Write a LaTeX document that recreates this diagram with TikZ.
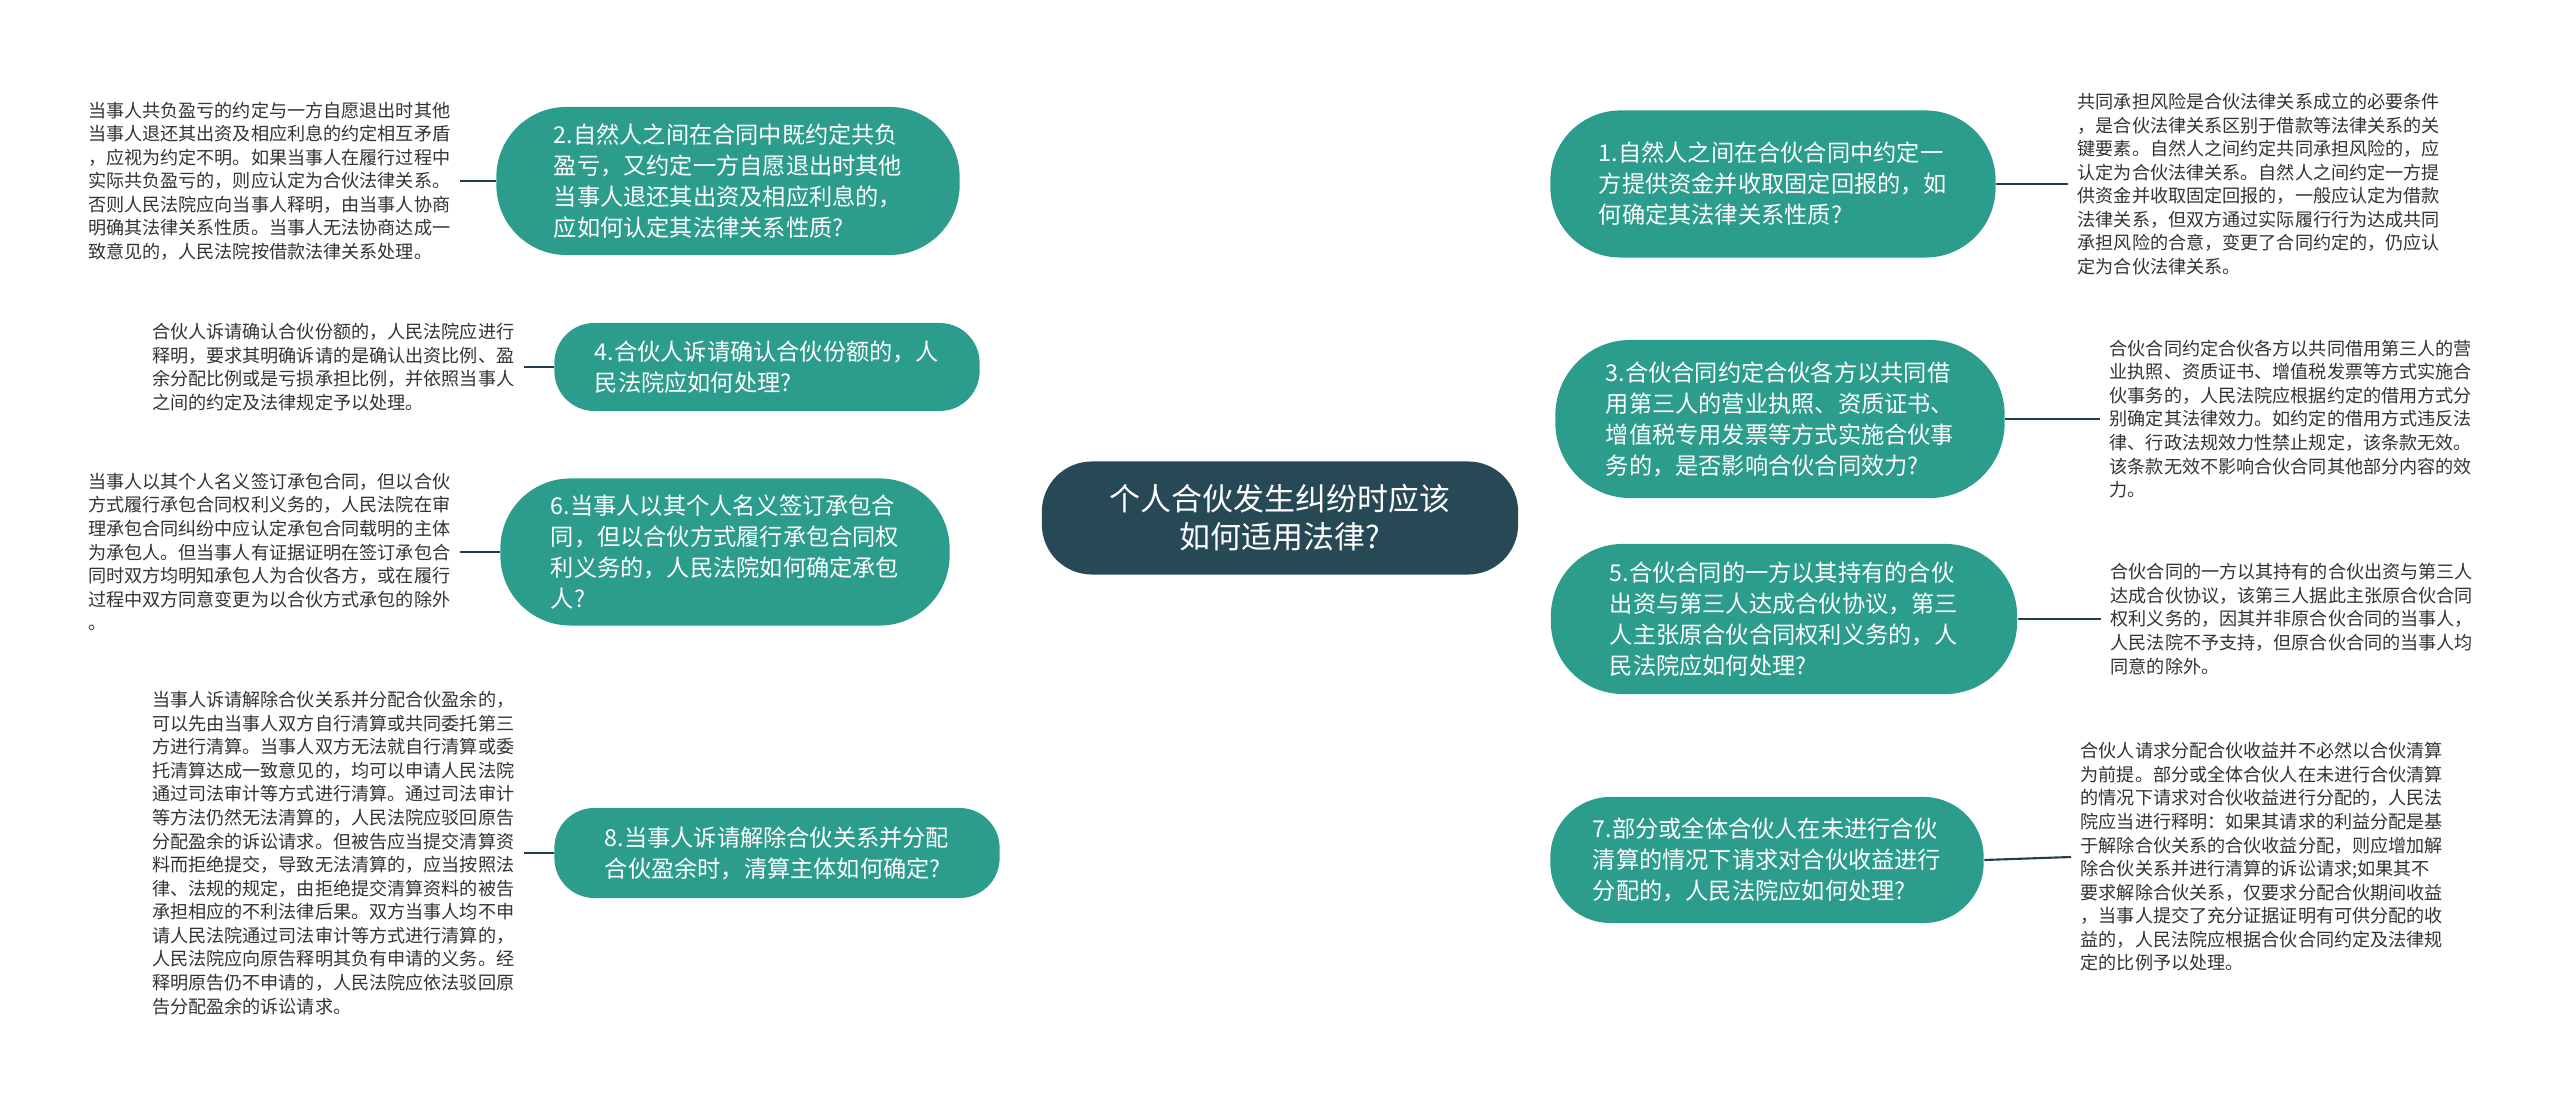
\documentclass[tikz,border=0pt]{standalone}
\usepackage{fontspec}
\setmainfont{Noto Sans CJK SC}
\usetikzlibrary{calc,backgrounds}
\definecolor{branchfill}{RGB}{44,157,140}
\definecolor{rootfill}{RGB}{39,73,86}
\definecolor{linec}{RGB}{35,62,74}
\definecolor{leaftext}{RGB}{51,51,51}
\begin{document}
\begin{tikzpicture}[x=0.01cm,y=-0.01cm,
  rootbox/.style={fill=rootfill, text=white, align=center, rounded corners=0.5cm,
    minimum width=4.76cm, minimum height=1.13cm, inner sep=0pt,
    font=\fontsize{8.8}{10.8}\selectfont},
  branch/.style={fill=branchfill, text=white, align=left, inner sep=0pt,
    font=\fontsize{6.6}{8.8}\selectfont},
  leaf/.style={text=leaftext, align=left, inner xsep=0.09cm, inner ysep=0pt,
    font=\fontsize{5.15}{6.7}\selectfont},
  link/.style={draw=linec, line width=0.6pt},
]
\useasboundingbox (0,0) rectangle (2560,1107);
\fill[white] (0,0) rectangle (2560,1107);

\node[rootbox] (c) at (1280,518) {个人合伙发生纠纷时应该\\如何适用法律?};

% right branches
\node[branch, minimum width=4.45cm, minimum height=1.47cm, rounded corners=0.7cm] (n1) at (1773,184)
  {1.自然人之间在合伙合同中约定一\\方提供资金并收取固定回报的，如\\何确定其法律关系性质?};
\node[branch, minimum width=4.49cm, minimum height=1.58cm, rounded corners=0.75cm] (n3) at (1780,419)
  {3.合伙合同约定合伙各方以共同借\\用第三人的营业执照、资质证书、\\增值税专用发票等方式实施合伙事\\务的，是否影响合伙合同效力?};
\node[branch, minimum width=4.66cm, minimum height=1.50cm, rounded corners=0.72cm] (n5) at (1784,619)
  {5.合伙合同的一方以其持有的合伙\\出资与第三人达成合伙协议，第三\\人主张原合伙合同权利义务的，人\\民法院应如何处理?};
\node[branch, minimum width=4.33cm, minimum height=1.26cm, rounded corners=0.6cm] (n7) at (1767,860)
  {7.部分或全体合伙人在未进行合伙\\清算的情况下请求对合伙收益进行\\分配的，人民法院应如何处理?};

% left branches
\node[branch, minimum width=4.63cm, minimum height=1.48cm, rounded corners=0.7cm] (n2) at (728,181)
  {2.自然人之间在合同中既约定共负\\盈亏，又约定一方自愿退出时其他\\当事人退还其出资及相应利息的，\\应如何认定其法律关系性质?};
\node[branch, minimum width=4.25cm, minimum height=0.88cm, rounded corners=0.4cm] (n4) at (767,367)
  {4.合伙人诉请确认合伙份额的，人\\民法院应如何处理?};
\node[branch, minimum width=4.49cm, minimum height=1.47cm, rounded corners=0.7cm] (n6) at (725,552)
  {6.当事人以其个人名义签订承包合\\同，但以合伙方式履行承包合同权\\利义务的，人民法院如何确定承包\\人?};
\node[branch, minimum width=4.45cm, minimum height=0.90cm, rounded corners=0.4cm] (n8) at (777,853)
  {8.当事人诉请解除合伙关系并分配\\合伙盈余时，清算主体如何确定?};

% leaves right
\node[leaf, anchor=west] (r1) at (2068,184)
  {共同承担风险是合伙法律关系成立的必要条件\\，是合伙法律关系区别于借款等法律关系的关\\键要素。自然人之间约定共同承担风险的，应\\认定为合伙法律关系。自然人之间约定一方提\\供资金并收取固定回报的，一般应认定为借款\\法律关系，但双方通过实际履行行为达成共同\\承担风险的合意，变更了合同约定的，仍应认\\定为合伙法律关系。};
\node[leaf, anchor=west] (r3) at (2100,419)
  {合伙合同约定合伙各方以共同借用第三人的营\\业执照、资质证书、增值税发票等方式实施合\\伙事务的，人民法院应根据约定的借用方式分\\别确定其法律效力。如约定的借用方式违反法\\律、行政法规效力性禁止规定，该条款无效。\\该条款无效不影响合伙合同其他部分内容的效\\力。};
\node[leaf, anchor=west] (r5) at (2101,619)
  {合伙合同的一方以其持有的合伙出资与第三人\\达成合伙协议，该第三人据此主张原合伙合同\\权利义务的，因其并非原合伙合同的当事人，\\人民法院不予支持，但原合伙合同的当事人均\\同意的除外。};
\node[leaf, anchor=west] (r7) at (2071,857)
  {合伙人请求分配合伙收益并不必然以合伙清算\\为前提。部分或全体合伙人在未进行合伙清算\\的情况下请求对合伙收益进行分配的，人民法\\院应当进行释明：如果其请求的利益分配是基\\于解除合伙关系的合伙收益分配，则应增加解\\除合伙关系并进行清算的诉讼请求;如果其不\\要求解除合伙关系，仅要求分配合伙期间收益\\，当事人提交了充分证据证明有可供分配的收\\益的，人民法院应根据合伙合同约定及法律规\\定的比例予以处理。};

% leaves left
\node[leaf, anchor=east] (l2) at (460,181)
  {当事人共负盈亏的约定与一方自愿退出时其他\\当事人退还其出资及相应利息的约定相互矛盾\\，应视为约定不明。如果当事人在履行过程中\\实际共负盈亏的，则应认定为合伙法律关系。\\否则人民法院应向当事人释明，由当事人协商\\明确其法律关系性质。当事人无法协商达成一\\致意见的，人民法院按借款法律关系处理。};
\node[leaf, anchor=east] (l4) at (524,367)
  {合伙人诉请确认合伙份额的，人民法院应进行\\释明，要求其明确诉请的是确认出资比例、盈\\余分配比例或是亏损承担比例，并依照当事人\\之间的约定及法律规定予以处理。};
\node[leaf, anchor=east] (l6) at (460,552)
  {当事人以其个人名义签订承包合同，但以合伙\\方式履行承包合同权利义务的，人民法院在审\\理承包合同纠纷中应认定承包合同载明的主体\\为承包人。但当事人有证据证明在签订承包合\\同时双方均明知承包人为合伙各方，或在履行\\过程中双方同意变更为以合伙方式承包的除外\\。};
\node[leaf, anchor=east] (l8) at (524,853)
  {当事人诉请解除合伙关系并分配合伙盈余的，\\可以先由当事人双方自行清算或共同委托第三\\方进行清算。当事人双方无法就自行清算或委\\托清算达成一致意见的，均可以申请人民法院\\通过司法审计等方式进行清算。通过司法审计\\等方法仍然无法清算的，人民法院应驳回原告\\分配盈余的诉讼请求。但被告应当提交清算资\\料而拒绝提交，导致无法清算的，应当按照法\\律、法规的规定，由拒绝提交清算资料的被告\\承担相应的不利法律后果。双方当事人均不申\\请人民法院通过司法审计等方式进行清算的，\\人民法院应向原告释明其负有申请的义务。经\\释明原告仍不申请的，人民法院应依法驳回原\\告分配盈余的诉讼请求。};

\begin{pgfonlayer}{background}
  \foreach \n in {n1,n3,n5,n7} {
    \draw[link] (c.center) .. controls ($(c.center)!0.5!(c.center |- \n.west)$) and ($(\n.west)!0.5!(c.center |- \n.west)$) .. (\n.west);
  }
  \foreach \n in {n2,n4,n6,n8} {
    \draw[link] (c.center) .. controls ($(c.center)!0.5!(c.center |- \n.east)$) and ($(\n.east)!0.5!(c.center |- \n.east)$) .. (\n.east);
  }
\end{pgfonlayer}

\draw[link] (n1.east) -- (r1.west);
\draw[link] (n3.east) -- (r3.west);
\draw[link] (n5.east) -- (r5.west);
\draw[link] (n7.east) -- (r7.west);
\draw[link] (l2.east) -- (n2.west);
\draw[link] (l4.east) -- (n4.west);
\draw[link] (l6.east) -- (n6.west);
\draw[link] (l8.east) -- (n8.west);
\end{tikzpicture}
\end{document}
